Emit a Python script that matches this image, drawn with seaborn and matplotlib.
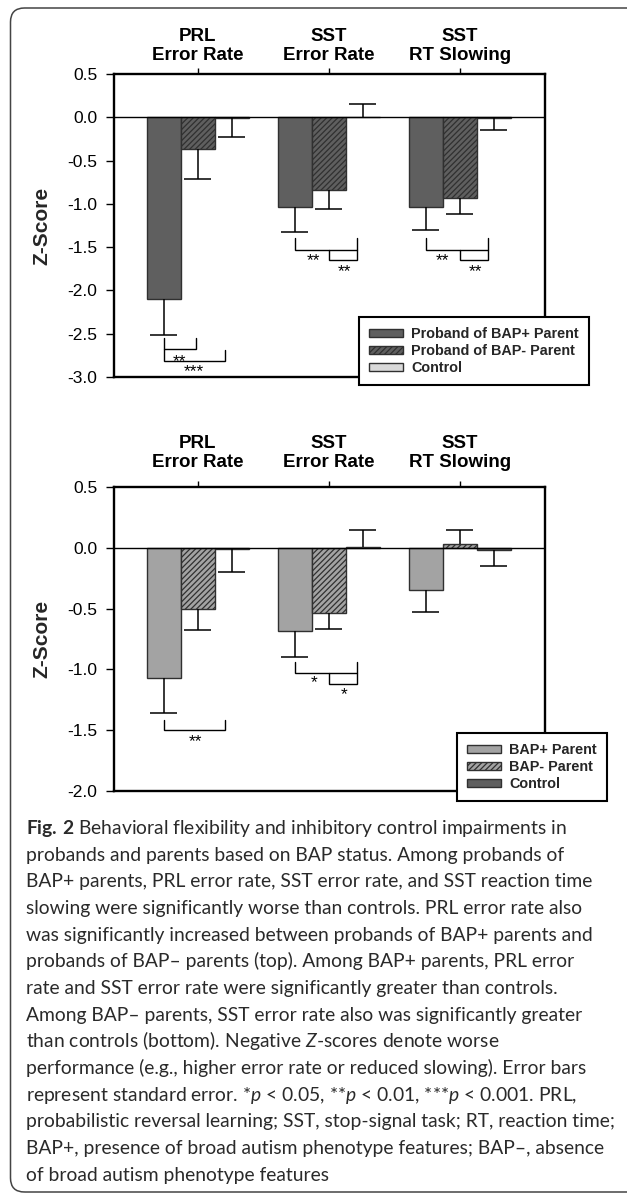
import matplotlib
matplotlib.use("Agg")  # headless rendering
import matplotlib.pyplot as plt
from matplotlib.patches import FancyBboxPatch, Patch
import pandas as pd
import seaborn as sns

# ---- data ----
measures = ["PRL\nError Rate", "SST\nError Rate", "SST\nRT Slowing"]

proband_groups = ["Proband of BAP+ Parent", "Proband of BAP- Parent", "Control"]
proband_bap_pos = [-2.10, -1.04, -1.04]
proband_bap_neg = [-0.37, -0.84, -0.93]
proband_control = [-0.01, 0.005, -0.01]
proband_bap_pos_se = [0.42, 0.29, 0.26]
proband_bap_neg_se = [0.34, 0.22, 0.19]
proband_control_se = [0.22, 0.145, 0.14]

parent_groups = ["BAP+ Parent", "BAP- Parent", "Control"]
parent_bap_pos = [-1.07, -0.685, -0.35]
parent_bap_neg = [-0.50, -0.54, 0.035]
parent_control = [-0.01, 0.005, -0.014]
parent_bap_pos_se = [0.29, 0.21, 0.18]
parent_bap_neg_se = [0.18, 0.125, 0.11]
parent_control_se = [0.19, 0.145, 0.134]

# significance annotations: (measure index, polyline offsets in x / z)
proband_brackets = [
    (0, [(-0.26, -2.55), (-0.26, -2.68), (-0.015, -2.68), (-0.015, -2.55)]),
    (0, [(-0.26, -2.68), (-0.26, -2.82), (0.206, -2.82), (0.206, -2.69)]),
    (1, [(-0.26, -1.40), (-0.26, -1.53), (0.214, -1.53), (0.214, -1.40)]),
    (1, [(0.0, -1.53), (0.0, -1.65), (0.214, -1.65), (0.214, -1.53)]),
    (2, [(-0.26, -1.40), (-0.26, -1.53), (0.214, -1.53), (0.214, -1.40)]),
    (2, [(0.0, -1.53), (0.0, -1.65), (0.214, -1.65), (0.214, -1.53)]),
]
proband_stars = [(0, -0.137, -2.76, "**"), (0, -0.03, -2.88, "***"),
                 (1, -0.115, -1.60, "**"), (1, 0.12, -1.72, "**"),
                 (2, -0.13, -1.60, "**"), (2, 0.12, -1.72, "**")]

parent_brackets = [
    (0, [(-0.26, -1.414), (-0.26, -1.50), (0.206, -1.50), (0.206, -1.414)]),
    (1, [(-0.26, -0.94), (-0.26, -1.03), (0.214, -1.03), (0.214, -0.94)]),
    (1, [(0.0, -1.03), (0.0, -1.12), (0.214, -1.12), (0.214, -1.03)]),
]
parent_stars = [(0, -0.02, -1.556, "**"), (1, -0.115, -1.065, "*"), (1, 0.115, -1.17, "*")]

caption_lines = [
    r"$\mathbf{Fig.\,2}$ Behavioral flexibility and inhibitory control impairments in",
    "probands and parents based on BAP status. Among probands of",
    "BAP+ parents, PRL error rate, SST error rate, and SST reaction time",
    "slowing were significantly worse than controls. PRL error rate also",
    "was significantly increased between probands of BAP+ parents and",
    "probands of BAP\u2013 parents (top). Among BAP+ parents, PRL error",
    "rate and SST error rate were significantly greater than controls.",
    "Among BAP\u2013 parents, SST error rate also was significantly greater",
    "than controls (bottom). Negative $Z$-scores denote worse",
    "performance (e.g., higher error rate or reduced slowing). Error bars",
    "represent standard error. *$p$ < 0.05, **$p$ < 0.01, ***$p$ < 0.001. PRL,",
    "probabilistic reversal learning; SST, stop-signal task; RT, reaction time;",
    "BAP+, presence of broad autism phenotype features; BAP\u2013, absence",
    "of broad autism phenotype features",
]

# ---- style ----
sns.set_style("white")
plt.rcParams["font.family"] = ["Liberation Sans", "DejaVu Sans"]
plt.rcParams["axes.unicode_minus"] = False
plt.rcParams["hatch.linewidth"] = 0.9
cap_font = "Lato"
plt.rcParams["mathtext.fontset"] = "custom"
plt.rcParams["mathtext.rm"] = cap_font
plt.rcParams["mathtext.it"] = cap_font + ":italic"
plt.rcParams["mathtext.bf"] = cap_font + ":bold"

W, H = 627, 1194
fig = plt.figure(figsize=(W / 100, H / 100), dpi=100)
fig.patch.set_facecolor("white")


def px_axes(left, top, right, bottom):
    return fig.add_axes([left / W, 1 - bottom / H, (right - left) / W, (bottom - top) / H])


EDGE = "#303030"
STAR_FS = 12.5


def draw_panel(ax, groups, means, ses, colors, hatches, ymin, brackets, stars,
               legend_xy, label_pad):
    rows = []
    for g, vals in zip(groups, means):
        for m, v in zip(measures, vals):
            rows.append({"measure": m, "group": g, "z": v})
    df = pd.DataFrame(rows)
    sns.barplot(data=df, x="measure", y="z", hue="group", order=measures,
                hue_order=groups, palette=colors, width=0.78, errorbar=None,
                saturation=1, edgecolor=EDGE, linewidth=1.0, legend=False, ax=ax)

    # one-sided error bars (away from zero)
    for cont, vals, errs, h in zip(ax.containers, means, ses, hatches):
        for patch, v, e in zip(cont, vals, errs):
            if h:
                patch.set_hatch(h)
            xc = patch.get_x() + patch.get_width() / 2
            end = v + e if v >= 0 else v - e
            ax.vlines(xc, v, end, color="black", lw=1.1, zorder=3)
            ax.hlines(end, xc - 0.103, xc + 0.103, color="black", lw=1.1, zorder=3)

    ax.axhline(0, color="black", lw=1.0, zorder=4)

    for idx, pts in brackets:
        xs = [idx + p[0] for p in pts]
        ys = [p[1] for p in pts]
        ax.plot(xs, ys, color="black", lw=1.0, solid_joinstyle="miter")
    for idx, dx, y, s in stars:
        ax.annotate(s, xy=(idx + dx, y), xytext=(0, -0.55 * STAR_FS), textcoords="offset points",
                    ha="center", va="baseline", fontsize=STAR_FS, color="black")

    ax.set_xlim(-0.64, 2.65)
    ax.set_ylim(ymin, 0.5)
    ticks = [0.5 - 0.5 * i for i in range(int(round((0.5 - ymin) / 0.5)) + 1)]
    ax.set_yticks(ticks)
    ax.set_yticklabels([f"{t:.1f}" for t in ticks])
    ax.xaxis.tick_top()
    ax.set_xlabel("")
    ax.set_ylabel("Z-Score", fontsize=15, fontweight="bold")
    ax.yaxis.set_label_coords((42 - 114) / 431, 0.5)
    ax.yaxis.label.set_va("center")
    ax.tick_params(axis="y", direction="out", length=6, width=1.0, pad=6,
                   labelsize=12.5, left=True, colors="black")
    ax.tick_params(axis="x", direction="out", length=4.5, width=1.0, pad=label_pad,
                   labelsize=13.5, top=True, bottom=False, labeltop=True,
                   labelbottom=False, colors="black")
    for lab in ax.get_xticklabels():
        lab.set_fontweight("bold")
        lab.set_multialignment("center")
        lab.set_linespacing(1.15)
    for sp in ax.spines.values():
        sp.set_visible(True)
        sp.set_linewidth(1.7)
        sp.set_color("black")

    handles = [Patch(facecolor=c, edgecolor=EDGE, hatch=h, lw=1.0)
               for c, h in zip(colors, hatches)]
    leg = ax.legend(handles, groups, loc="upper left",
                    bbox_to_anchor=(legend_xy[0] / W, 1 - legend_xy[1] / H),
                    bbox_transform=fig.transFigure, borderaxespad=0,
                    frameon=True, fancybox=False, framealpha=1, edgecolor="black",
                    prop={"weight": "bold", "size": 10.4}, handlelength=2.35,
                    handleheight=0.5, handletextpad=0.55, labelspacing=0.2,
                    borderpad=0.7)
    leg.get_frame().set_linewidth(1.5)
    leg.set_zorder(10)


ax_top = px_axes(114, 74, 545, 377)
draw_panel(ax_top, proband_groups,
           [proband_bap_pos, proband_bap_neg, proband_control],
           [proband_bap_pos_se, proband_bap_neg_se, proband_control_se],
           ["#5f5f5f", "#5f5f5f", "#d9d9d9"], ["", "//////", ""],
           -3.0, proband_brackets, proband_stars, (359, 317), 3)

ax_bot = px_axes(114, 487, 545, 791)
draw_panel(ax_bot, parent_groups,
           [parent_bap_pos, parent_bap_neg, parent_control],
           [parent_bap_pos_se, parent_bap_neg_se, parent_control_se],
           ["#a3a3a3", "#a3a3a3", "#5f5f5f"], ["", "//////", ""],
           -2.0, parent_brackets, parent_stars, (457, 733), 7)

# rounded frame around figure + caption (right edge runs off the image)
frame = FancyBboxPatch((0.105, 0.02), 6.4, 11.84, boxstyle="round,pad=0,rounding_size=0.14",
                       transform=fig.dpi_scale_trans, facecolor="none",
                       edgecolor="#444444", lw=1.1)
fig.patches.append(frame)

# caption, fitted to the width of the reference's widest line
texts = []
for i, line in enumerate(caption_lines):
    t = fig.text(26 / W, 1 - (834 + i * 26.67) / H, line, fontsize=12,
                 family=cap_font, color="#2a2a2a", ha="left", va="baseline")
    texts.append(t)
fig.canvas.draw()
renderer = fig.canvas.get_renderer()
wid = texts[11].get_window_extent(renderer).width
for t in texts:
    t.set_fontsize(12 * 586 / wid)

fig.savefig("out.png", dpi=100)
